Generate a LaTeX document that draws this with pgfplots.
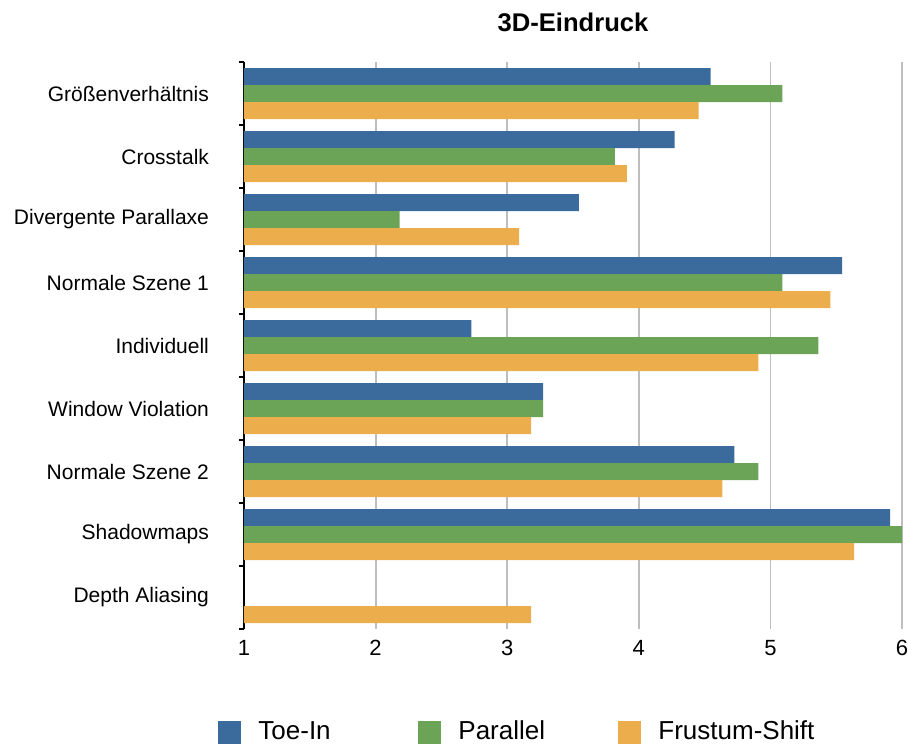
\documentclass[border=0pt]{standalone}
\usepackage{fontspec}
\setmainfont{Liberation Sans}
\usepackage{pgfplots}
\pgfplotsset{compat=1.18}

\definecolor{toein}{RGB}{58,107,156}
\definecolor{parallel}{RGB}{107,163,87}
\definecolor{frustum}{RGB}{236,173,76}
\definecolor{gridgray}{RGB}{190,190,190}

\begin{document}
\begin{tikzpicture}
\useasboundingbox (-122pt,-57.5pt) rectangle (332pt,314.5pt);
\begin{axis}[
  at={(0pt,0pt)}, anchor=south west,
  scale only axis,
  width=329pt, height=283.5pt,
  xbar, bar width=0.27,
  xmin=1, xmax=6,
  ymin=-0.5, ymax=8.5,
  y dir=reverse,
  xtick={1,2,3,4,5,6},
  ytick={0,...,8},
  yticklabels={Größenverhältnis, Crosstalk, Divergente Parallaxe, Normale Szene 1, Individuell, Window Violation, Normale Szene 2, Shadowmaps, Depth Aliasing},
  minor ytick={-0.5,0.5,...,8.5},
  major tick length=0pt,
  minor tick length=2.5pt,
  tick align=outside,
  minor tick style={black, line width=0.8pt},
  axis lines*=left,
  separate axis lines,
  x axis line style={draw=none},
  y axis line style={black, line width=0.8pt},
  xmajorgrids,
  major grid style={gridgray, line width=0.9pt},
  /pgf/number format/assume math mode=true,
  xticklabel style={font=\fontsize{11}{13}\selectfont, yshift=-2pt},
  yticklabel style={font=\fontsize{10.5}{12}\selectfont, xshift=-14pt},
  title={3D-Eindruck},
  title style={font=\bfseries\fontsize{12.8}{15}\selectfont, at={(0.5,1)}, anchor=center, yshift=14pt},
  legend columns=3,
  legend style={
    draw=none,
    at={(-0.0486,-0.1817)}, anchor=west,
    font=\fontsize{13}{15}\selectfont,
    /tikz/every odd column/.append style={column sep=6.5pt},
    /tikz/every even column/.append style={column sep=0pt},
  },
  legend image code/.code={\fill[#1] (0pt,-5.75pt) rectangle (11.5pt,5.75pt);},
]
% Toe-In
\addplot[fill=toein, draw=none, bar shift=-0.27] coordinates {
  (4.545,0) (4.273,1) (3.545,2) (5.545,3) (2.727,4) (3.273,5) (4.727,6) (5.909,7)
};
% Parallel
\addplot[fill=parallel, draw=none, bar shift=0] coordinates {
  (5.091,0) (3.818,1) (2.182,2) (5.091,3) (5.364,4) (3.273,5) (4.909,6) (6.000,7)
};
% Frustum-Shift
\addplot[fill=frustum, draw=none, bar shift=0.27] coordinates {
  (4.455,0) (3.909,1) (3.091,2) (5.455,3) (4.909,4) (3.182,5) (4.636,6) (5.636,7) (3.182,8)
};
\legend{\makebox[78pt][l]{Toe-In}, \makebox[78pt][l]{Parallel}, Frustum-Shift}
\end{axis}
\end{tikzpicture}
\end{document}
